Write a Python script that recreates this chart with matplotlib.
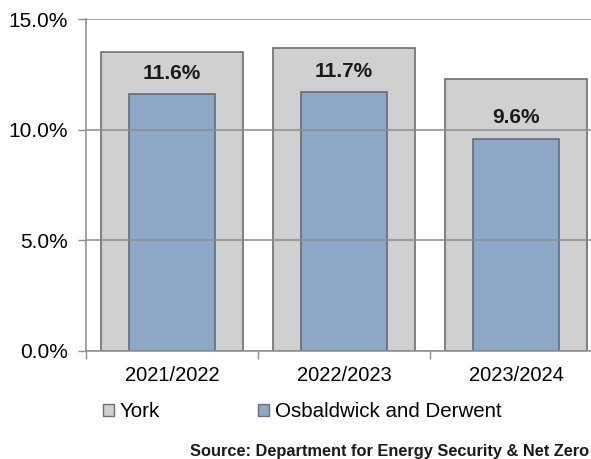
import numpy as np
import matplotlib
matplotlib.use("Agg")
import matplotlib.pyplot as plt
from matplotlib.ticker import FuncFormatter

# data
periodos = ["2021/2022", "2022/2023", "2023/2024"]
york = [13.5, 13.7, 12.3]
osbaldwick = [11.6, 11.7, 9.6]
etiquetas = ["11.6%", "11.7%", "9.6%"]
fuente = "Source: Department for Energy Security & Net Zero"

plt.rcParams['font.family'] = ['Liberation Sans', 'DejaVu Sans']

fig = plt.figure(figsize=(5.91, 4.59), dpi=100)
ax = fig.add_axes([0.1455, 0.2353, 0.8731, 0.7233])

x = np.arange(len(periodos))
gris = "#d0d0d0"
azul = "#8ea9c8"
borde = "#6e6e6e"

ax.bar(x, york, width=0.83, color=gris, edgecolor=borde, linewidth=1.2,
       label="York", zorder=1)
ax.bar(x, osbaldwick, width=0.5, color=azul, edgecolor="#5f6e80", linewidth=1.2,
       label="Osbaldwick and Derwent", zorder=2)

for xi, v, t in zip(x, osbaldwick, etiquetas):
    ax.annotate(t, (xi, v), xytext=(0, 8), textcoords="offset points",
                ha="center", va="bottom", fontsize=15, fontweight="bold",
                color="#1a1a1a", zorder=4)

ax.set_xlim(-0.5, 2.5)
ax.set_ylim(0, 15)
ax.set_yticks([0, 5, 10, 15])
ax.yaxis.set_major_formatter(FuncFormatter(lambda v, p: f"{v:.1f}%"))
ax.grid(axis="y", color="#8c8c8c", linewidth=1.1, zorder=3)
ax.set_axisbelow(False)

ax.set_xticks(x)
ax.set_xticklabels(periodos)
ax.set_xticks([-0.5, 0.5, 1.5, 2.5], minor=True)
ax.tick_params(axis="x", which="major", length=0, pad=11, labelsize=14.5)
ax.tick_params(axis="x", which="minor", length=6, color="#8c8c8c", width=1)
ax.tick_params(axis="y", length=6, color="#8c8c8c", width=1, pad=7, labelsize=15)

for s in ["top", "right"]:
    ax.spines[s].set_visible(False)
for s in ["left", "bottom"]:
    ax.spines[s].set_color("#8c8c8c")
    ax.spines[s].set_linewidth(1.1)

leg = fig.legend(loc="center left", bbox_to_anchor=(0.160, 0.1035), ncol=2,
                 frameon=False, fontsize=14.8, handlelength=0.55, handleheight=0.55,
                 handletextpad=0.25, columnspacing=4.8, borderaxespad=0)
for h in leg.legend_handles:
    h.set_edgecolor("#6e6e6e")
    h.set_linewidth(1)

fig.text(0.322, 0.0174, fuente, fontsize=11.8, fontweight="bold", ha="left",
         va="center", color="#1a1a1a")

fig.savefig("out.png", dpi=100)
